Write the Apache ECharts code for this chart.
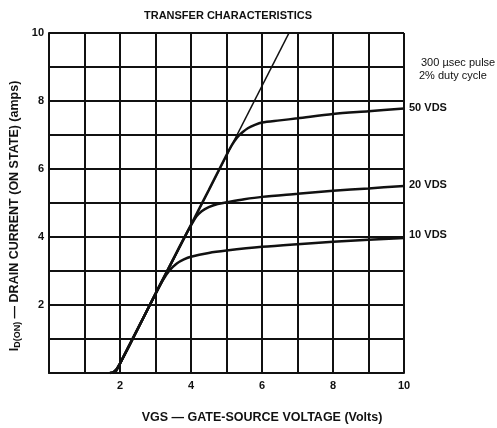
<!DOCTYPE html>
<html>
<head>
<meta charset="utf-8">
<script src="https://cdn.jsdelivr.net/npm/echarts@6/dist/echarts.min.js"></script>
<style>
  html, body { margin: 0; padding: 0; background: #fff; }
  #chart { width: 497px; height: 428px; }
</style>
</head>
<body>
<div id="chart"></div>
<script>
// Gate-source voltage (V) and drain current (A) for each drain-source voltage
const vgs10 = [1.72, 1.82, 1.9, 2.0, 2.5, 3.0, 3.2, 3.4, 3.6, 3.8, 4.0, 4.5, 5.0, 6.0, 7.0, 8.0, 9.0, 10.0];
const id10  = [0, 0.03, 0.1, 0.28, 1.3, 2.33, 2.72, 3.02, 3.22, 3.34, 3.42, 3.53, 3.6, 3.71, 3.79, 3.86, 3.92, 3.97];

const vgs20 = [1.72, 1.82, 1.9, 2.0, 2.5, 3.0, 3.5, 3.8, 4.0, 4.15, 4.3, 4.5, 4.75, 5.0, 5.5, 6.0, 7.0, 8.0, 9.0, 10.0];
const id20  = [0, 0.03, 0.1, 0.28, 1.3, 2.33, 3.35, 3.96, 4.34, 4.6, 4.76, 4.88, 4.97, 5.02, 5.11, 5.18, 5.27, 5.36, 5.43, 5.5];

const vgs50 = [1.72, 1.82, 1.9, 2.0, 2.5, 3.0, 4.0, 4.5, 5.0, 5.15, 5.3, 5.45, 5.6, 5.8, 6.0, 6.5, 7.0, 8.0, 9.0, 10.0];
const id50  = [0, 0.03, 0.1, 0.28, 1.3, 2.33, 4.36, 5.38, 6.41, 6.7, 6.93, 7.08, 7.2, 7.3, 7.37, 7.43, 7.49, 7.62, 7.7, 7.78];

// Straight transconductance line
const lineVgs = [1.88, 6.76];
const lineId  = [0, 10];

const seriesNames = ['10 VDS', '20 VDS', '50 VDS'];
const tickLabels = [2, 4, 6, 8, 10];

const pairs = (xs, ys) => xs.map((x, i) => [x, ys[i]]);
const FONT = '"Liberation Sans", Arial, sans-serif';
const INK = '#111';

function curve(name, xs, ys, labelOffset) {
  return {
    type: 'line',
    name: name,
    data: pairs(xs, ys),
    smooth: 0.3,
    showSymbol: false,
    lineStyle: { color: INK, width: 2.5 },
    endLabel: {
      show: true,
      formatter: name,
      distance: 5,
      offset: labelOffset,
      color: INK,
      fontFamily: FONT,
      fontWeight: 'bold',
      fontSize: 11
    },
    z: 5
  };
}

const chart = echarts.init(document.getElementById('chart'), null, { renderer: 'canvas' });

const tickFmt = v => (tickLabels.indexOf(v) >= 0 ? String(v) : '');

chart.setOption({
  animation: false,
  backgroundColor: '#fff',
  title: {
    text: 'TRANSFER CHARACTERISTICS',
    left: 223,
    top: 5,
    textAlign: 'center',
    textStyle: { fontFamily: FONT, fontWeight: 'bold', fontSize: 11, color: INK }
  },
  grid: { left: 49, right: 93, top: 33, bottom: 55, containLabel: false },
  xAxis: {
    type: 'value',
    min: 0, max: 10, interval: 1,
    axisLine: { show: true, lineStyle: { color: INK, width: 2 } },
    axisTick: { show: false },
    splitLine: { show: true, lineStyle: { color: INK, width: 2 } },
    axisLabel: {
      formatter: tickFmt, margin: 7,
      color: INK, fontFamily: FONT, fontWeight: 'bold', fontSize: 11
    }
  },
  yAxis: {
    type: 'value',
    min: 0, max: 10, interval: 1,
    axisLine: { show: true, lineStyle: { color: INK, width: 2 } },
    axisTick: { show: false },
    splitLine: { show: true, lineStyle: { color: INK, width: 2 } },
    axisLabel: {
      formatter: tickFmt, margin: 5,
      color: INK, fontFamily: FONT, fontWeight: 'bold', fontSize: 11
    }
  },
  graphic: [
    {
      type: 'text',
      left: 421, top: 57,
      style: { text: '300 \u00B5sec pulse', fill: INK, font: '11px ' + FONT }
    },
    {
      type: 'text',
      left: 419, top: 70,
      style: { text: '2% duty cycle', fill: INK, font: '11px ' + FONT }
    },
    {
      type: 'text',
      x: 262, y: 418,
      style: {
        text: 'VGS \u2014 GATE-SOURCE VOLTAGE (Volts)',
        fill: INK, font: 'bold 12.5px ' + FONT,
        align: 'center', verticalAlign: 'middle'
      }
    },
    {
      type: 'text',
      x: 15, y: 216,
      rotation: Math.PI / 2,
      style: {
        text: '{b|I}{s|D(ON)}{b| \u2014 DRAIN CURRENT (ON STATE) (amps)}',
        align: 'center', verticalAlign: 'middle',
        rich: {
          b: { fontFamily: FONT, fontWeight: 'bold', fontSize: 12.5, fill: INK, color: INK },
          s: { fontFamily: FONT, fontWeight: 'bold', fontSize: 9, fill: INK, color: INK, padding: [6, 0, 0, 0] }
        }
      }
    }
  ],
  series: [
    {
      type: 'line',
      name: 'slope',
      data: pairs(lineVgs, lineId),
      showSymbol: false,
      lineStyle: { color: INK, width: 1.6 },
      z: 4
    },
    curve(seriesNames[0], vgs10, id10, [0, -3]),
    curve(seriesNames[1], vgs20, id20, [0, -1]),
    curve(seriesNames[2], vgs50, id50, [0, -1])
  ]
});
</script>
</body>
</html>
